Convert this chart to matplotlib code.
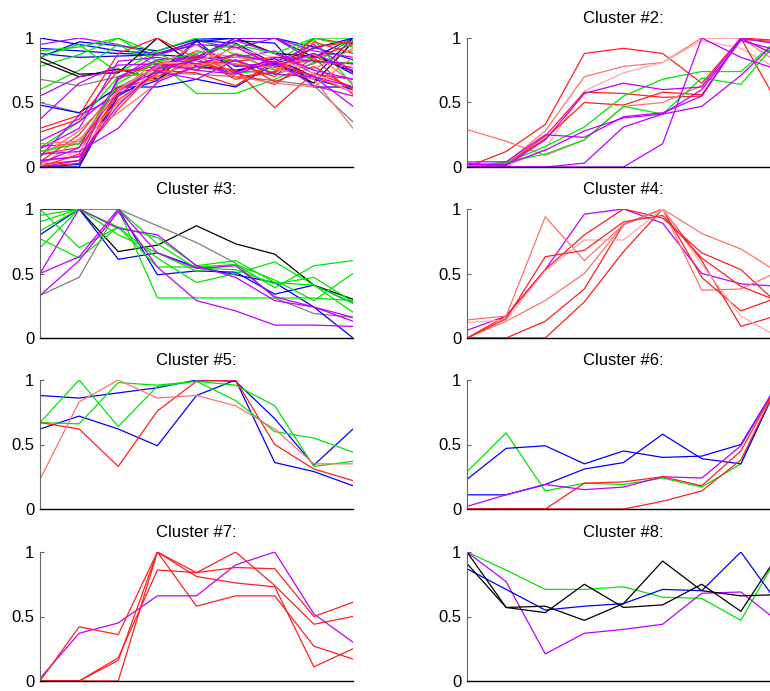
import matplotlib.pyplot as plt

plt.rcParams['font.family'] = ['Liberation Sans', 'DejaVu Sans']

# colour groups used in the clusters
palette = {'r': '#ff2020', 'lr': '#ff7070', 'p': '#ffa8a8', 'g': '#00e600',
           'b': '#0000ff', 'm': '#bf00ff', 'k': '#000000', 'gy': '#808080'}

titles = ['Cluster #1:', 'Cluster #2:', 'Cluster #3:', 'Cluster #4:',
          'Cluster #5:', 'Cluster #6:', 'Cluster #7:', 'Cluster #8:']
yticks = [0, 0.5, 1]
yticklabels = ['0', '0.5', '1']

c1_cols = ['b', 'b', 'b', 'b', 'm', 'g', 'g', 'g', 'g', 'k', 'k', 'gy', 'gy', 'b',
           'g', 'm', 'm', 'b', 'b', 'r', 'r', 'r', 'r', 'r', 'r', 'r', 'r', 'r',
           'lr', 'lr', 'lr', 'p', 'm', 'm', 'm', 'm', 'm', 'm', 'm', 'g', 'lr']
c1_vals = [
    [1.0, 0.95, 0.9, 0.88, 0.97, 1.0, 1.0, 0.85, 1.0],
    [0.92, 0.9, 0.88, 0.87, 0.95, 0.78, 0.8, 0.88, 0.72],
    [0.88, 0.85, 0.86, 0.87, 0.85, 0.98, 0.96, 0.62, 0.62],
    [0.85, 0.97, 0.94, 0.9, 0.99, 1.0, 1.0, 0.93, 0.83],
    [0.95, 1.0, 0.95, 0.87, 0.98, 0.92, 1.0, 0.82, 0.8],
    [0.9, 0.93, 1.0, 0.88, 0.75, 0.88, 0.81, 1.0, 1.0],
    [0.78, 0.87, 1.0, 0.82, 0.57, 0.57, 0.68, 0.81, 0.81],
    [0.6, 0.75, 0.95, 0.78, 0.83, 0.72, 0.77, 0.85, 0.9],
    [0.85, 0.95, 0.73, 0.9, 1.0, 0.87, 0.75, 0.99, 0.63],
    [0.85, 0.72, 0.73, 1.0, 0.78, 0.75, 0.8, 0.65, 0.97],
    [0.82, 0.7, 0.76, 0.68, 0.85, 1.0, 0.88, 0.86, 0.74],
    [0.68, 0.63, 0.7, 0.73, 0.72, 0.7, 0.67, 0.63, 0.35],
    [0.5, 0.42, 0.62, 0.77, 0.77, 0.75, 0.72, 0.8, 1.0],
    [0.48, 0.42, 0.62, 0.62, 0.68, 0.62, 0.8, 0.68, 0.6],
    [0.15, 0.35, 0.7, 0.73, 0.85, 0.82, 0.73, 0.93, 0.98],
    [0.37, 0.65, 0.79, 0.8, 0.85, 0.85, 0.9, 0.72, 0.68],
    [0.55, 0.7, 0.74, 0.78, 0.87, 0.79, 0.8, 0.7, 0.47],
    [0.0, 0.02, 0.57, 0.67, 0.98, 0.74, 0.84, 0.7, 1.0],
    [0.0, 0.0, 0.55, 0.72, 0.98, 0.96, 0.8, 0.92, 1.0],
    [0.3, 0.4, 0.88, 1.0, 0.84, 0.7, 0.73, 0.93, 0.97],
    [0.27, 0.37, 0.75, 0.75, 0.73, 0.63, 0.82, 0.7, 0.58],
    [0.16, 0.18, 0.58, 0.79, 0.8, 0.75, 0.46, 0.73, 0.62],
    [0.1, 0.15, 0.55, 0.8, 0.82, 0.8, 0.7, 0.97, 0.88],
    [0.05, 0.08, 0.45, 0.76, 0.9, 0.82, 0.85, 0.85, 0.95],
    [0.02, 0.05, 0.52, 0.73, 0.86, 0.73, 0.64, 0.85, 0.56],
    [0.0, 0.03, 0.6, 0.7, 0.84, 0.68, 0.74, 1.0, 0.95],
    [0.0, 0.1, 0.68, 0.82, 0.75, 0.95, 0.78, 0.83, 0.77],
    [0.04, 0.25, 0.62, 0.68, 0.78, 0.83, 0.66, 0.78, 0.6],
    [0.12, 0.2, 0.5, 0.72, 0.8, 0.8, 0.77, 0.68, 0.3],
    [0.08, 0.28, 0.58, 0.83, 0.77, 0.88, 0.75, 0.88, 0.65],
    [0.0, 0.22, 0.42, 0.65, 0.9, 0.85, 0.82, 0.76, 0.92],
    [0.02, 0.12, 0.47, 0.8, 0.82, 0.92, 0.85, 0.72, 0.58],
    [0.1, 0.12, 0.3, 0.66, 0.78, 0.73, 0.85, 0.82, 0.8],
    [0.05, 0.08, 0.48, 0.76, 0.83, 0.98, 0.88, 0.75, 0.68],
    [0.0, 0.05, 0.7, 0.83, 0.85, 1.0, 1.0, 0.9, 0.85],
    [0.14, 0.3, 0.82, 0.85, 0.8, 0.87, 0.81, 0.95, 0.73],
    [0.08, 0.4, 0.55, 0.8, 0.75, 0.72, 0.82, 0.63, 0.55],
    [0.03, 0.15, 0.68, 0.88, 0.95, 0.93, 0.78, 0.88, 0.75],
    [0.2, 0.35, 0.6, 0.74, 0.68, 0.83, 0.72, 0.7, 0.62],
    [0.12, 0.18, 0.65, 0.82, 0.88, 0.95, 0.88, 1.0, 0.93],
    [0.18, 0.2, 0.6, 0.78, 0.95, 0.7, 0.65, 0.62, 0.85],
]

c2_cols = ['r', 'lr', 'p', 'r', 'r', 'lr', 'g', 'g', 'm', 'm', 'm', 'm', 'm']
c2_vals = [
    [0.0, 0.12, 0.33, 0.88, 0.92, 0.88, 0.65, 1.0, 0.98],
    [0.0, 0.03, 0.28, 0.70, 0.78, 0.81, 1.0, 1.0, 0.8],
    [0.0, 0.0, 0.14, 0.59, 0.73, 0.81, 0.98, 0.92, 0.75],
    [0.0, 0.02, 0.24, 0.58, 0.57, 0.54, 0.55, 1.0, 0.46],
    [0.0, 0.02, 0.22, 0.50, 0.48, 0.58, 0.56, 0.99, 0.97],
    [0.29, 0.2, 0.09, 0.21, 0.47, 0.50, 0.63, 1.0, 0.85],
    [0.01, 0.03, 0.16, 0.31, 0.55, 0.68, 0.74, 0.74, 1.0],
    [0.0, 0.04, 0.1, 0.21, 0.47, 0.41, 0.69, 0.64, 1.0],
    [0.0, 0.0, 0.0, 0.0, 0.0, 0.18, 1.0, 0.85, 0.75],
    [0.0, 0.0, 0.0, 0.03, 0.31, 0.41, 0.47, 0.71, 1.0],
    [0.04, 0.04, 0.25, 0.23, 0.39, 0.42, 0.55, 1.0, 0.95],
    [0.03, 0.01, 0.21, 0.57, 0.65, 0.6, 0.62, 1.0, 0.85],
    [0.02, 0.02, 0.13, 0.28, 0.38, 0.41, 0.6, 0.98, 0.9],
]

c3_cols = ['k', 'gy', 'b', 'b', 'g', 'g', 'g', 'g', 'g', 'g', 'm', 'm', 'm']
c3_vals = [
    [1.0, 1.0, 0.67, 0.72, 0.87, 0.73, 0.65, 0.41, 0.30],
    [0.33, 0.47, 1.0, 0.87, 0.74, 0.58, 0.31, 0.19, 0.16],
    [0.8, 1.0, 0.61, 0.66, 0.55, 0.49, 0.43, 0.24, 0.0],
    [1.0, 1.0, 1.0, 0.49, 0.52, 0.51, 0.34, 0.41, 0.27],
    [0.9, 1.0, 1.0, 0.31, 0.31, 0.31, 0.31, 0.31, 0.29],
    [0.77, 0.62, 0.86, 0.78, 0.56, 0.6, 0.43, 0.41, 0.2],
    [0.7, 1.0, 0.86, 0.62, 0.43, 0.5, 0.59, 0.41, 0.27],
    [1.0, 0.7, 0.86, 0.55, 0.55, 0.57, 0.39, 0.56, 0.6],
    [0.95, 1.0, 0.8, 0.66, 0.52, 0.57, 0.45, 0.29, 0.5],
    [0.83, 1.0, 1.0, 0.73, 0.54, 0.53, 0.42, 0.47, 0.28],
    [0.5, 1.0, 0.85, 0.8, 0.56, 0.47, 0.29, 0.24, 0.13],
    [0.33, 0.6, 0.98, 0.55, 0.29, 0.21, 0.1, 0.1, 0.09],
    [0.5, 0.63, 1.0, 0.66, 0.54, 0.56, 0.32, 0.24, 0.16],
]

c4_cols = ['m', 'r', 'lr', 'r', 'r', 'lr', 'p', 'r']
c4_vals = [
    [0.06, 0.17, 0.53, 0.96, 1.0, 0.89, 0.5, 0.42, 0.4],
    [0.0, 0.17, 0.53, 0.80, 1.0, 0.93, 0.66, 0.53, 0.25],
    [0.14, 0.17, 0.94, 0.6, 0.88, 1.0, 0.37, 0.38, 0.52],
    [0.0, 0.0, 0.0, 0.28, 0.67, 1.0, 0.6, 0.09, 0.18],
    [0.0, 0.0, 0.13, 0.38, 0.88, 1.0, 0.47, 0.21, 0.32],
    [0.0, 0.13, 0.29, 0.5, 0.88, 1.0, 0.81, 0.69, 0.5],
    [0.12, 0.14, 0.52, 0.76, 0.76, 1.0, 0.57, 0.17, 0.0],
    [0.0, 0.15, 0.63, 0.68, 0.9, 0.95, 0.62, 0.4, 0.28],
]

c5_cols = ['b', 'b', 'g', 'g', 'r', 'lr']
c5_vals = [
    [0.88, 0.86, 0.9, 0.94, 1.0, 0.99, 0.7, 0.34, 0.62],
    [0.62, 0.72, 0.62, 0.49, 0.88, 1.0, 0.36, 0.29, 0.18],
    [0.67, 1.0, 0.64, 0.95, 0.99, 0.84, 0.6, 0.55, 0.44],
    [0.67, 0.66, 0.98, 0.96, 0.99, 0.96, 0.8, 0.33, 0.37],
    [0.67, 0.62, 0.33, 0.76, 0.99, 1.0, 0.5, 0.31, 0.22],
    [0.23, 0.83, 1.0, 0.86, 0.88, 0.8, 0.62, 0.35, 0.35],
]

c6_cols = ['g', 'b', 'b', 'm', 'r', 'r']
c6_vals = [
    [0.29, 0.59, 0.14, 0.2, 0.19, 0.24, 0.17, 0.35, 1.0],
    [0.23, 0.47, 0.49, 0.35, 0.45, 0.40, 0.41, 0.5, 1.0],
    [0.11, 0.11, 0.19, 0.31, 0.36, 0.58, 0.39, 0.35, 1.0],
    [0.02, 0.11, 0.19, 0.15, 0.17, 0.25, 0.24, 0.49, 1.0],
    [0.0, 0.0, 0.0, 0.2, 0.21, 0.25, 0.18, 0.45, 1.0],
    [0.0, 0.0, 0.0, 0.0, 0.0, 0.06, 0.14, 0.38, 1.0],
]

c7_cols = ['m', 'r', 'r', 'r', 'r']
c7_vals = [
    [0.02, 0.37, 0.45, 0.66, 0.66, 0.9, 1.0, 0.52, 0.3],
    [0.0, 0.42, 0.36, 1.0, 0.84, 1.0, 0.74, 0.44, 0.5],
    [0.0, 0.0, 0.18, 0.86, 0.84, 0.88, 0.87, 0.5, 0.61],
    [0.0, 0.0, 0.16, 1.0, 0.81, 0.76, 0.73, 0.11, 0.25],
    [0.0, 0.0, 0.0, 1.0, 0.58, 0.66, 0.66, 0.27, 0.17],
]

c8_cols = ['g', 'm', 'b', 'k', 'k']
c8_vals = [
    [1.0, 0.86, 0.71, 0.71, 0.73, 0.65, 0.64, 0.47, 1.0],
    [1.0, 0.77, 0.21, 0.37, 0.4, 0.44, 0.68, 0.69, 0.45],
    [0.87, 0.71, 0.55, 0.58, 0.6, 0.71, 0.7, 1.0, 0.58],
    [1.0, 0.57, 0.53, 0.75, 0.57, 0.59, 0.75, 0.54, 1.0],
    [0.91, 0.57, 0.58, 0.47, 0.6, 0.93, 0.7, 0.66, 0.67],
]

clusters = [(c1_vals, c1_cols), (c2_vals, c2_cols), (c3_vals, c3_cols), (c4_vals, c4_cols),
            (c5_vals, c5_cols), (c6_vals, c6_cols), (c7_vals, c7_cols), (c8_vals, c8_cols)]

W, H = 770, 691
fig = plt.figure(figsize=(W / 100, H / 100), dpi=100)

# right column runs past the figure edge, like the cropped original
col_left = [40, 467]
col_width = 313
row_top = [38, 209, 380, 552]
row_height = 129

for i, (vals, cols) in enumerate(clusters):
    r, c = i // 2, i % 2
    rect = [col_left[c] / W, (H - row_top[r] - row_height) / H,
            col_width / W, row_height / H]
    ax = fig.add_axes(rect)
    for v, cc in zip(vals, cols):
        ax.plot(range(len(v)), v, color=palette[cc], lw=0.9)
    ax.set_xlim(0, 8)
    ax.set_ylim(0, 1)
    ax.set_xticks([])
    ax.set_yticks(yticks)
    ax.set_yticklabels(yticklabels)
    ax.tick_params(axis='y', direction='in', length=3, color='#666666',
                   labelsize=12, pad=4)
    ax.spines['top'].set_visible(False)
    ax.spines['right'].set_visible(False)
    ax.spines['left'].set_color('#666666')
    ax.spines['left'].set_linewidth(0.8)
    ax.spines['bottom'].set_color('black')
    ax.spines['bottom'].set_linewidth(1.0)
    ax.set_title(titles[i], fontsize=12, pad=10.5)

fig.savefig('out.png', dpi=100)
